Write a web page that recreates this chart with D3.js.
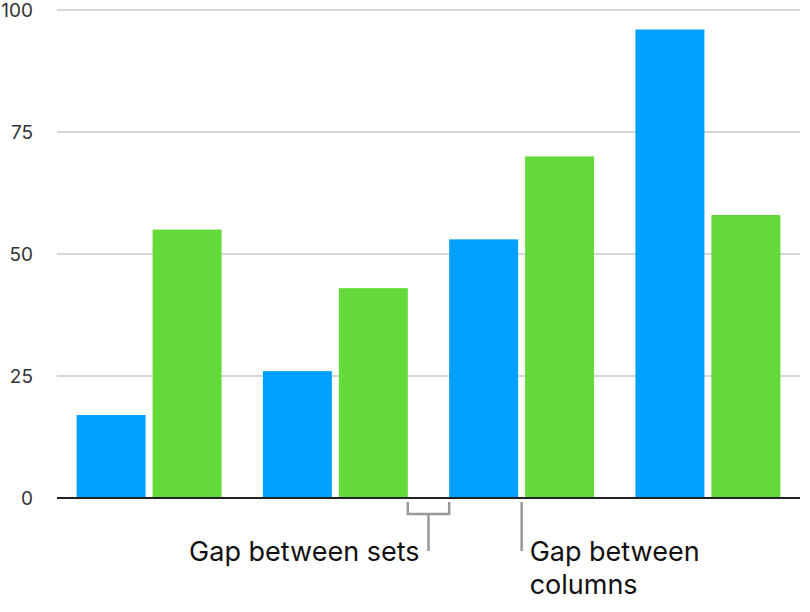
<!DOCTYPE html>
<html><head><meta charset="utf-8">
<script src="https://cdn.jsdelivr.net/npm/d3@7"></script>
<style>body{margin:0;background:#fff;}svg text{font-family:Inter,Roboto,sans-serif;}</style>
</head><body><svg id="c" width="810" height="612"></svg>
<script>
const categories = ["Set 1","Set 2","Set 3","Set 4"];
const seriesNames = ["Series A","Series B"];
const seriesA = [17, 26, 53, 96];
const seriesB = [55, 43, 70, 58];
const yTicks = [0, 25, 50, 75, 100];
const colors = ["#00a0ff", "#63d93a"];

const svg = d3.select("#c");
const x0 = d3.scaleBand().domain(categories).range([58, 799]).paddingInner(0.222).paddingOuter(0.1);
const x1 = d3.scaleBand().domain(seriesNames).range([0, x0.bandwidth()]).paddingInner(0.092);
const y = d3.scaleLinear().domain([0, 100]).range([498, 10]);

// gridlines
svg.append("g").selectAll("line").data(yTicks.filter(d => d > 0)).join("line")
  .attr("x1", 57).attr("x2", 800).attr("y1", d => y(d)).attr("y2", d => y(d))
  .attr("stroke", "#c8c8c8").attr("stroke-width", 1.5);

// tick labels
svg.append("g").selectAll("text").data(yTicks).join("text")
  .attr("x", 33).attr("y", d => y(d)).attr("dy", "0.36em").attr("text-anchor", "end")
  .attr("font-size", 19).attr("fill", "#333").text(d => d);

// bars
const rows = categories.map((c, i) => ({c, vals: [seriesA[i], seriesB[i]]}));
const g = svg.append("g").selectAll("g").data(rows).join("g")
  .attr("transform", d => `translate(${x0(d.c)},0)`);
g.selectAll("rect").data(d => d.vals.map((v, j) => ({s: seriesNames[j], v, j}))).join("rect")
  .attr("x", d => x1(d.s)).attr("width", x1.bandwidth())
  .attr("y", d => y(d.v)).attr("height", d => y(0) - y(d.v))
  .attr("fill", d => colors[d.j]);

// baseline
svg.append("line").attr("x1", 57).attr("x2", 800).attr("y1", y(0)).attr("y2", y(0))
  .attr("stroke", "#222").attr("stroke-width", 2);

// annotations
const ann = svg.append("g").attr("stroke", "#999").attr("stroke-width", 2.5).attr("fill", "none");
const gapL = x0(categories[1]) + x0.bandwidth();
const gapR = x0(categories[2]);
ann.append("path").attr("d", `M${gapL},502 V514 H${gapR} V502`);
const mid = (gapL + gapR) / 2;
ann.append("line").attr("x1", mid).attr("x2", mid).attr("y1", 514).attr("y2", 551);
const colGap = x0(categories[2]) + x1.bandwidth() + x1.step() * x1.paddingInner() / 2;
ann.append("line").attr("x1", colGap).attr("x2", colGap).attr("y1", 502).attr("y2", 551);

svg.append("text").attr("x", mid - 9).attr("y", 561).attr("text-anchor", "end")
  .attr("font-size", 27).attr("fill", "#111").text("Gap between sets");
svg.append("text").attr("x", colGap + 8).attr("y", 561)
  .attr("font-size", 27).attr("fill", "#111").text("Gap between");
svg.append("text").attr("x", colGap + 8).attr("y", 594)
  .attr("font-size", 27).attr("fill", "#111").text("columns");
</script></body></html>
